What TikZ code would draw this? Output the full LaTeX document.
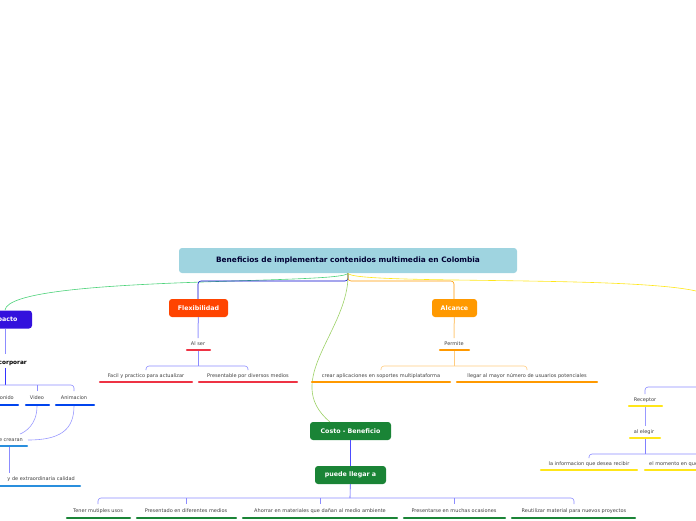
\documentclass[tikz,border=0pt]{standalone}
\usepackage{fontspec}
\setmainfont{DejaVu Sans}
\begin{document}
\begin{tikzpicture}[x=1pt,y=-1pt,
  mainbox/.style={rounded corners=3pt,text=white,font=\bfseries\fontsize{6.3}{7}\selectfont,inner sep=0pt,minimum height=18pt},
  lbl/.style={font=\fontsize{5}{6}\selectfont,text=black!75,inner sep=1pt},
  ul/.style={line width=2.2pt,line cap=round},
  br/.style={draw=blue!45,line width=0.6pt,rounded corners=3pt}]
\definecolor{tit}{HTML}{9FD4E0}
\definecolor{imp}{HTML}{3311DD}
\definecolor{flx}{HTML}{FF4400}
\definecolor{alc}{HTML}{FF9900}
\definecolor{grn}{HTML}{1A8436}
\definecolor{redu}{HTML}{EE3344}
\definecolor{dbl}{HTML}{0044EE}
\definecolor{lbl2}{HTML}{2A8FDD}
\definecolor{yel}{HTML}{FFE619}
\useasboundingbox (0,0) rectangle (696,520);
\clip (0,0) rectangle (696,520);
% connectors from title
\coordinate (hub) at (348,273);
\coordinate (rightend) at (700,292);
\draw[green!50!teal!70,line width=0.6pt] (hub) .. controls (348,285) and (10,275) .. (5,310);
\draw[blue!80!black,line width=0.6pt,rounded corners=3pt] (hub) -- (348,281) -- (198,281) -- (198,299);
\draw[alc,line width=0.6pt,rounded corners=3pt] (hub) -- (348,281) -- (454,281) -- (454,299);
\draw[yel,line width=0.6pt] (hub) .. controls (348,285) and (640,275) .. (rightend);
\draw[green!50!yellow!70!black!60,line width=0.6pt] (hub) .. controls (350,330) and (280,380) .. (330,422);
% title
\node[rounded corners=3pt,fill=tit,text=black!80!blue,font=\bfseries\fontsize{7.4}{8}\selectfont,minimum width=338pt,minimum height=25pt] (title) at (348,260.5) {Beneficios de implementar contenidos multimedia en Colombia};
\node[mainbox,fill=imp,minimum width=58pt] (imp) at (3,319.5) {Impacto};
\node[mainbox,fill=flx,minimum width=59pt] (flx) at (198.5,308) {Flexibilidad};
\node[mainbox,fill=alc,minimum width=45pt] (alc) at (454.5,308) {Alcance};
\node[mainbox,fill=grn,minimum width=81pt] (cb) at (350.5,431) {Costo - Beneficio};
\node[mainbox,fill=grn,minimum width=71pt] (pl) at (350.5,475) {puede llegar a};
\draw[blue!70,line width=0.6pt] (cb) -- (pl);
% Flexibilidad branch
\node[lbl] (alser) at (198,344) {Al ser};
\draw[ul,redu] (187,350) -- (210,350);
\draw[blue!40,line width=1pt] (flx) -- (198,338);
\node[lbl] (f1) at (146,376) {Facil y practico para actualizar};
\node[lbl] (f2) at (248,376) {Presentable por diversos medios};
\draw[ul,redu] (100,382) -- (192,382);
\draw[ul,redu] (199,382) -- (297,382);
\draw[br] (198,351) -- (198,366);
\draw[br] (146,370) -- (146,366) -- (248,366) -- (248,370);
% Alcance branch
\node[lbl] (perm) at (454,344) {Permite};
\draw[ul,alc] (440,350) -- (469,350);
\draw[alc!50,line width=1pt] (alc) -- (454,338);
\node[lbl] (a1) at (381,376) {crear aplicaciones en soportes multiplataforma};
\node[lbl] (a2) at (527,376) {llegar al mayor número de usuarios potenciales};
\draw[ul,alc] (312,382) -- (450,382);
\draw[ul,alc] (457,382) -- (597,382);
\draw[alc!50,line width=0.6pt] (454,351) -- (454,366);
\draw[alc!50,line width=0.6pt,rounded corners=3pt] (381,370) -- (381,366) -- (527,366) -- (527,370);
% Impacto branch
\node[font=\bfseries\fontsize{5.8}{6}\selectfont,inner sep=1pt,anchor=east] (inc) at (28,363) {Incorporar};
\draw[blue!45,line width=1pt] (5,329) -- (5,354);
\draw[blue!80,line width=0.6pt] (5,368) -- (5,385);
\draw[br] (-10,385) -- (74,385) -- (74,391);
\draw[br] (37,385) -- (37,391);
\node[lbl,anchor=east] (son) at (15,398) {Sonido};
\node[lbl] (vid) at (37,398) {Video};
\node[lbl] (ani) at (74,398) {Animacion};
\draw[ul,dbl] (-20,405) -- (18,405);
\draw[ul,dbl] (26,405) -- (49,405);
\draw[ul,dbl] (56,405) -- (94,405);
\node[lbl,anchor=east] (sec) at (24,440) {Se crearan};
\draw[ul,lbl2] (-20,446) -- (27,446);
\draw[blue!40,line width=0.6pt] (37,406) .. controls (37,425) and (25,432) .. (20,434);
\draw[blue!40,line width=0.6pt] (74,406) .. controls (74,430) and (60,440) .. (28,440);
\draw[blue!40,line width=0.6pt] (-3,406) .. controls (-3,420) and (0,430) .. (-2,434);
\draw[blue!45,line width=1pt] (9,447) -- (9,473);
\node[lbl,anchor=east] (cal) at (76,479) {y de extraordinaria calidad};
\draw[ul,lbl2] (-20,486) -- (80,486);
% right branch
\node[lbl] (rec) at (645,400) {Receptor};
\draw[ul,yel] (629,406) -- (662,406);
\coordinate (rend) at (700,387);
\draw[br] (645,394) -- (645,387) -- (rend);
\node[lbl] (ale) at (644,432) {al elegir};
\draw[ul,yel] (630,438) -- (660,438);
\draw[blue!40,line width=1pt] (645,407) -- (645,426);
\draw[blue!50,line width=1pt] (645,439) -- (645,454);
\draw[br] (589,458) -- (589,454) -- (700,454);
\node[lbl] (r1) at (589,464) {la informacion que desea recibir};
\node[lbl,anchor=west] (r2) at (648,464) {el momento en que};
\draw[ul,yel] (541,470) -- (637,470);
\draw[ul,yel] (645,470) -- (700,470);
% bottom branch
\draw[blue!70,line width=0.6pt] (pl) -- (350,498);
\draw[br] (98,504) -- (98,498) -- (574,498) -- (574,504);
\draw[br] (186,498) -- (186,504);
\draw[br] (320,498) -- (320,504);
\draw[br] (454,498) -- (454,504);
\node[lbl] (b1) at (98,511) {Tener mutiples usos};
\node[lbl] (b2) at (186,511) {Presentado en diferentes medios};
\node[lbl] (b3) at (320,511) {Ahorrar en materiales que dañan al medio ambiente};
\node[lbl] (b4) at (454,511) {Presentarse en muchas ocasiones};
\node[lbl] (b5) at (574,511) {Reutilizar material para nuevos proyectos};
\draw[ul,grn] (67,518) -- (130,518);
\draw[ul,grn] (137,518) -- (236,518);
\draw[ul,grn] (243,518) -- (397,518);
\draw[ul,grn] (404,518) -- (505,518);
\draw[ul,grn] (512,518) -- (635,518);
\end{tikzpicture}
\end{document}
